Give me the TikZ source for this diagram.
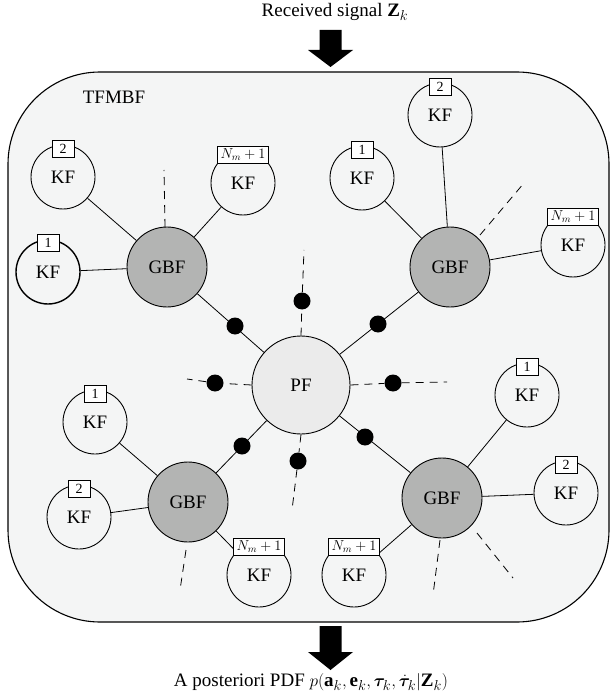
\documentclass[tikz,border=0pt]{standalone}
\usepackage{amsmath,bm}
\usepackage{fontspec}
\setmainfont{Liberation Serif}
\usetikzlibrary{calc}
\definecolor{bgc}{HTML}{F4F5F5}
\definecolor{gbfc}{HTML}{B3B4B3}
\definecolor{pfc}{HTML}{EBEBEB}
\begin{document}
\begin{tikzpicture}[x=1pt,y=-1pt,
  big/.style={font=\fontsize{19}{22}\selectfont},
  kf/.style={circle,draw,line width=0.9pt,inner sep=0pt,minimum size=64pt,big},
  gbf/.style={circle,draw,line width=0.9pt,fill=gbfc,inner sep=0pt,minimum size=80pt,big},
  pf/.style={circle,draw,line width=0.9pt,fill=pfc,inner sep=0pt,minimum size=98pt,big},
  tag/.style={draw,fill=white,line width=0.7pt,inner xsep=3pt,inner ysep=0pt,minimum width=22pt,minimum height=17pt,font=\fontsize{14}{16}\selectfont},
  dot/.style={circle,fill=black,inner sep=0pt,minimum size=17pt},
  link/.style={line width=0.8pt},
  dsh/.style={line width=0.8pt,dash pattern=on 8pt off 6pt},
  blk/.style={fill=black}
]
\useasboundingbox (0,0) rectangle (610,700);
% main box
\draw[line width=1.1pt,fill=bgc,rounded corners=92pt] (8,72) rectangle (609,622);
\node[big] (tfmbf) at (114,97) {TFMBF};
% arrows and texts
\node[big] (rx) at (335,12) {Received signal $\mathbf{Z}_k$};
\fill[blk] (319.5,30) -- (341.5,30) -- (341.5,50) -- (353,50) -- (330.5,67) -- (308,50) -- (319.5,50) -- cycle;
\fill[blk] (319.5,626) -- (341.5,626) -- (341.5,652) -- (353,652) -- (330.5,670) -- (308,652) -- (319.5,652) -- cycle;
\node[big] (post) at (311,682) {A posteriori PDF $p(\mathbf{a}_k,\mathbf{e}_k,\boldsymbol{\tau}_k,\dot{\boldsymbol{\tau}}_k|\mathbf{Z}_k)$};
% central nodes
\node[pf] (pf) at (301,385) {PF};
\node[gbf] (g1) at (167,267) {GBF};
\node[gbf] (g2) at (450,267) {GBF};
\node[gbf] (g3) at (188,502) {GBF};
\node[gbf] (g4) at (442,498) {GBF};
% KF nodes: top-left
\node[kf] (a2) at (63,177) {KF};
\node[kf] (aN) at (243,183) {KF};
\node[kf,line width=1.4pt] (a1) at (48,272) {KF};
% top-right
\node[kf] (b2) at (440,115) {KF};
\node[kf] (b1) at (362,178) {KF};
\node[kf] (bN) at (573,245) {KF};
% bottom-left
\node[kf] (c1) at (95,422) {KF};
\node[kf] (c2) at (79,517) {KF};
\node[kf] (cN) at (259,575) {KF};
% bottom-right
\node[kf] (d1) at (527,395) {KF};
\node[kf] (d2) at (566,493) {KF};
\node[kf] (dN) at (354,575) {KF};
% links GBF-KF
\draw[link] (g1) -- (a2); \draw[link] (g1) -- (aN); \draw[link] (g1) -- (a1);
\draw[link] (g2) -- (b2); \draw[link] (g2) -- (b1); \draw[link] (g2) -- (bN);
\draw[link] (g3) -- (c1); \draw[link] (g3) -- (c2); \draw[link] (g3) -- (cN);
\draw[link] (g4) -- (d1); \draw[link] (g4) -- (d2); \draw[link] (g4) -- (dN);
% tags
\node[tag] (ta2) at ([yshift=-4pt]a2.north) {2};
\node[tag] (taN) at ([yshift=-4pt]aN.north) {$N_m+1$};
\node[tag] (ta1) at ([yshift=-4pt]a1.north) {1};
\node[tag] (tb2) at ([yshift=-4pt]b2.north) {2};
\node[tag] (tb1) at ([yshift=-4pt]b1.north) {1};
\node[tag] (tbN) at ([yshift=-4pt]bN.north) {$N_m+1$};
\node[tag] (tc1) at ([yshift=-4pt]c1.north) {1};
\node[tag] (tc2) at ([yshift=-4pt]c2.north) {2};
\node[tag] (tcN) at ([yshift=-4pt]cN.north) {$N_m+1$};
\node[tag] (td1) at ([yshift=-4pt]d1.north) {1};
\node[tag] (td2) at ([yshift=-4pt]d2.north) {2};
\node[tag] (tdN) at ([yshift=-4pt]dN.north) {$N_m+1$};
% dashed stubs from GBFs
\coordinate (e1a) at (165,227); \coordinate (e1b) at (164,170);
\coordinate (e2a) at (480,235); \coordinate (e2b) at (524,183);
\coordinate (e3a) at (186,550); \coordinate (e3b) at (180,590);
\coordinate (e4a) at (440,540); \coordinate (e4b) at (433,595);
\coordinate (e5a) at (477,533); \coordinate (e5b) at (513,578);
\draw[dsh] (e1a) -- (e1b);
\draw[dsh] (e2a) -- (e2b);
\draw[dsh] (e3a) -- (e3b);
\draw[dsh] (e4a) -- (e4b);
\draw[dsh] (e5a) -- (e5b);
% PF-GBF links with dots
\draw[link] (pf) -- (g1); \draw[link] (pf) -- (g2);
\draw[link] (pf) -- (g3); \draw[link] (pf) -- (g4);
\node[dot] (p1) at (235,326) {};
\node[dot] (p2) at (378,324) {};
\node[dot] (p3) at (242,446) {};
\node[dot] (p4) at (365,437) {};
% PF dashed spokes
\node[dot] (q1) at (302,301) {};
\node[dot] (q2) at (215,383) {};
\node[dot] (q3) at (393,383) {};
\node[dot] (q4) at (298,461) {};
\coordinate (r1) at (304,250);
\coordinate (r2) at (187,379);
\coordinate (r3) at (447,382);
\coordinate (r4) at (292,510);
\draw[dsh] (pf.north) -- (q1) -- (r1);
\draw[dsh] (pf.west) -- (q2) -- (r2);
\draw[dsh] (pf.east) -- (q3) -- (r3);
\draw[dsh] (pf.south) -- (q4) -- (r4);
\end{tikzpicture}
\end{document}
